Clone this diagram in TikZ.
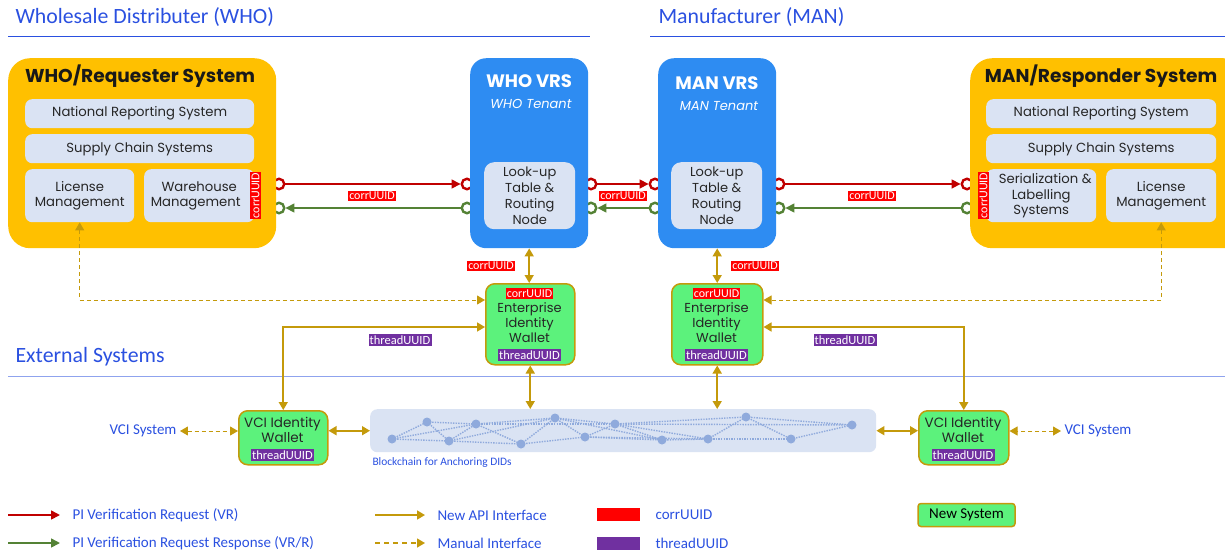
\documentclass[tikz,border=0pt]{standalone}
\usepackage{fontspec}
\setmainfont{Poppins}
\newfontfamily\lblfont{Carlito}
\usetikzlibrary{arrows.meta,calc}

\definecolor{sysyellow}{HTML}{FFC000}
\definecolor{vrsblue}{HTML}{2E8CF2}
\definecolor{paneblue}{HTML}{DAE3F3}
\definecolor{walletgreen}{HTML}{5CF27C}
\definecolor{apigold}{HTML}{C49A0B}
\definecolor{reqred}{HTML}{C00000}
\definecolor{resgreen}{HTML}{548235}
\definecolor{tagred}{HTML}{FF0000}
\definecolor{tagpurple}{HTML}{7030A0}
\definecolor{hdrblue}{HTML}{2A50E0}
\definecolor{extline}{HTML}{8FA3EE}
\definecolor{chainblue}{HTML}{8FAADC}
\definecolor{panetext}{HTML}{262626}

\tikzset{
  sysbox/.style={fill=sysyellow, rounded corners=22pt, anchor=north west, inner sep=0pt},
  vrsbox/.style={fill=vrsblue, rounded corners=16pt, anchor=north west, inner sep=0pt,
    minimum width=118pt, minimum height=190pt},
  pane/.style={fill=paneblue, rounded corners=7pt, anchor=north west, align=center,
    text=panetext, inner sep=1pt, font=\fontsize{13.2}{15.5}\selectfont},
  systitle/.style={font=\bfseries\fontsize{18.6}{21}\selectfont, text=black!90},
  vrstitle/.style={font=\bfseries\fontsize{18}{21}\selectfont, text=white},
  tenant/.style={font=\itshape\fontsize{13}{15}\selectfont, text=white},
  wallet/.style={fill=walletgreen, draw=apigold, line width=1.5pt, rounded corners=9pt,
    anchor=north west, inner sep=0pt},
  wtext/.style={align=center, text=panetext, font=\fontsize{13}{15}\selectfont},
  ctag/.style={fill=tagred, text=white, inner sep=1.2pt,
    font=\lblfont\fontsize{12}{12}\selectfont},
  ttag/.style={fill=tagpurple, text=white, inner sep=1.2pt,
    font=\lblfont\fontsize{12.5}{13}\selectfont},
  ring/.style={circle, minimum size=10.5pt, inner sep=0pt, line width=2.4pt, fill=white},
  reqarrow/.style={draw=reqred, line width=1.6pt, -{Triangle[length=9pt,width=9pt]}},
  resarrow/.style={draw=resgreen, line width=1.6pt, -{Triangle[length=9pt,width=9pt]}},
  api/.style={draw=apigold, line width=1.6pt,
    {Triangle[length=8pt,width=9pt]}-{Triangle[length=8pt,width=9pt]}},
  apione/.style={draw=apigold, line width=1.6pt, -{Triangle[length=8pt,width=9pt]}},
  manual/.style={draw=apigold, line width=1pt, dash pattern=on 4pt off 3pt,
    {Triangle[length=8pt,width=9pt]}-{Triangle[length=8pt,width=9pt]}},
  manualone/.style={draw=apigold, line width=1.4pt, dash pattern=on 5pt off 4pt,
    -{Triangle[length=8pt,width=9pt]}},
  header/.style={anchor=west, text=hdrblue, font=\lblfont\fontsize{21.8}{24}\selectfont},
  bluelbl/.style={text=hdrblue, font=\lblfont\fontsize{15}{17}\selectfont},
  legtext/.style={anchor=west, text=hdrblue, font=\lblfont\fontsize{15}{17}\selectfont},
  chainnode/.style={circle, fill=chainblue, minimum size=9pt, inner sep=0pt},
  chainlink/.style={draw=chainblue, line width=1.4pt, dash pattern=on 1.4pt off 1.2pt},
}

\begin{document}
\begin{tikzpicture}[x=1pt, y=-1pt]
\useasboundingbox (0,0) rectangle (1225,555);

% ---------- section headers ----------
\node[header] (hdrWho) at (12,17) {Wholesale Distributer (WHO)};
\node[header] (hdrMan) at (655,17) {Manufacturer (MAN)};
\node[header] (hdrExt) at (12,357) {External Systems};
\draw[hdrblue, line width=1pt] (8,36) -- (590,36);
\draw[hdrblue, line width=1pt] (650,36) -- (1225,36);
\draw[extline, line width=1pt] (8,376) -- (1225,376);

% ---------- interface sockets (behind the boxes) ----------
\node[ring, draw=reqred]   (whoOutR)  at (279,184) {};
\node[ring, draw=resgreen] (whoOutG)  at (279,208) {};
\node[ring, draw=reqred]   (wvInR)    at (467,184) {};
\node[ring, draw=resgreen] (wvInG)    at (467,208) {};
\node[ring, draw=reqred]   (wvOutR)   at (591,184) {};
\node[ring, draw=resgreen] (wvOutG)   at (591,208) {};
\node[ring, draw=reqred]   (mvInR)    at (655,184) {};
\node[ring, draw=resgreen] (mvInG)    at (655,208) {};
\node[ring, draw=reqred]   (mvOutR)   at (779,184) {};
\node[ring, draw=resgreen] (mvOutG)   at (779,208) {};
\node[ring, draw=reqred]   (manInR)   at (967,184) {};
\node[ring, draw=resgreen] (manInG)   at (967,208) {};

% ---------- WHO requester system ----------
\node[sysbox, minimum width=268pt, minimum height=190pt] (whoSys) at (8,58) {};
\node[systitle] (whoTitle) at (140,76) {WHO/Requester System};
\node[pane, minimum width=229pt, minimum height=29pt] (whoNrs) at (25,99) {National Reporting System};
\node[pane, minimum width=229pt, minimum height=29pt] (whoScs) at (25,134) {Supply Chain Systems};
\node[pane, minimum width=109pt, minimum height=53pt] (whoLic) at (25,169) {License\\Management};
\node[pane, minimum width=110pt, minimum height=53pt] (whoWh) at (144,169) {Warehouse\\Management\hspace*{7pt}};
\node[ctag, rotate=90, minimum width=43pt] (whoTag) at (255.5,195.5) {corrUUID};

% ---------- MAN responder system ----------
\node[sysbox, minimum width=275pt, minimum height=190pt] (manSys) at (970,58) {};
\node[systitle] (manTitle) at (1101,76) {MAN/Responder System};
\node[pane, minimum width=230pt, minimum height=29pt] (manNrs) at (986,99) {National Reporting System};
\node[pane, minimum width=230pt, minimum height=29pt] (manScs) at (986,134) {Supply Chain Systems};
\node[pane, minimum width=110pt, minimum height=53pt, font=\fontsize{13.2}{15.5}\selectfont] (manSer) at (986,169) {\hspace*{8pt}Serialization \&\\Labelling\\Systems};
\node[pane, minimum width=110pt, minimum height=53pt] (manLic) at (1106,169) {License\\Management};
\node[ctag, rotate=90, minimum width=43pt] (manTag) at (983.5,195.5) {corrUUID};

% ---------- VRS tenants ----------
\node[vrsbox] (whoVrs) at (470,58) {};
\node[vrstitle] (whoVrsT) at (529,81) {WHO VRS};
\node[tenant] (whoTen) at (531,104) {WHO Tenant};
\node[pane, rounded corners=10pt, minimum width=91pt, minimum height=67pt,
      font=\fontsize{13}{16}\selectfont] (whoLut) at (484,162) {Look-up\\Table \&\\Routing\\Node};

\node[vrsbox] (manVrs) at (658,58) {};
\node[vrstitle] (manVrsT) at (717,83) {MAN VRS};
\node[tenant] (manTen) at (719,106) {MAN Tenant};
\node[pane, rounded corners=10pt, minimum width=91pt, minimum height=67pt,
      font=\fontsize{13}{16}\selectfont] (manLut) at (671,162) {Look-up\\Table \&\\Routing\\Node};

% ---------- request / response flows ----------
\draw[reqarrow] (whoOutR) -- (wvInR);
\draw[resarrow] (wvInG) -- (whoOutG);
\draw[reqarrow] (wvOutR) -- (mvInR);
\draw[resarrow] (mvInG) -- (wvOutG);
\draw[reqarrow] (mvOutR) -- (manInR);
\draw[resarrow] (manInG) -- (mvOutG);
\node[ctag] (tagA) at (372,196) {corrUUID};
\node[ctag] (tagB) at (623,196) {corrUUID};
\node[ctag] (tagC) at (872,196) {corrUUID};

% ---------- enterprise identity wallets ----------
\node[wallet, minimum width=89pt, minimum height=81pt] (whoEiw) at (485,283) {};
\node[ctag] (whoEiwC) at (529.5,293.5) {corrUUID};
\node[wtext] (whoEiwT) at (529.5,323) {Enterprise\\Identity\\Wallet};
\node[ttag] (whoEiwTh) at (529.5,355) {threadUUID};

\node[wallet, minimum width=91pt, minimum height=81pt] (manEiw) at (671,283) {};
\node[ctag] (manEiwC) at (716.5,293.5) {corrUUID};
\node[wtext] (manEiwT) at (716.5,323) {Enterprise\\Identity\\Wallet};
\node[ttag] (manEiwTh) at (716.5,355) {threadUUID};

\draw[api] (whoVrs.south) -- (whoEiw.north -| whoVrs.south);
\draw[api] (manVrs.south) -- (manEiw.north -| manVrs.south);
\node[ctag] (tagD) at (491,266) {corrUUID};
\node[ctag] (tagE) at (755,266) {corrUUID};

% ---------- VCI wallets, blockchain ----------
\node[wallet, minimum width=89pt, minimum height=54pt] (whoVci) at (238,410) {};
\node[wtext, font=\fontsize{13.5}{15.5}\selectfont] (whoVciT) at (282.5,430) {VCI Identity\\Wallet};
\node[ttag] (whoVciTh) at (282.5,455) {threadUUID};

\node[wallet, minimum width=90pt, minimum height=54pt] (manVci) at (918,410) {};
\node[wtext, font=\fontsize{13.5}{15.5}\selectfont] (manVciT) at (963,430) {VCI Identity\\Wallet};
\node[ttag] (manVciTh) at (963,455) {threadUUID};

\node[fill=paneblue, rounded corners=7pt, anchor=north west, inner sep=0pt,
      minimum width=506pt, minimum height=43pt] (chain) at (370,409) {};
\node[anchor=west, text=hdrblue, font=\lblfont\fontsize{11.4}{13}\selectfont] (chainLbl) at (369,463) {Blockchain for Anchoring DIDs};

\foreach \n/\x/\y in {1/392/439, 2/427/422, 3/449/441, 4/476/424, 5/521/444, 6/555/418,
  7/585/437, 8/615/424, 9/662/440, 10/708/439, 11/746/417, 12/791/439, 13/852/425}
  \coordinate (c\n) at (\x,\y);
\foreach \a/\b in {1/2, 1/3, 1/4, 2/4, 2/3, 3/4, 3/5, 3/6, 4/6, 4/5, 4/8, 5/7, 5/6, 6/7,
  6/8, 6/9, 7/8, 7/9, 7/10, 8/9, 8/10, 8/11, 9/10, 10/11, 10/12, 11/12, 11/13, 12/13, 8/13}
  \draw[chainlink] (c\a) -- (c\b);
\foreach \n in {1,...,13}
  \node[chainnode] (cn\n) at (c\n) {};

\node[bluelbl] (whoVciSys) at (143,431) {VCI System};
\node[bluelbl] (manVciSys) at (1098,431) {VCI System};

\draw[manual] (whoVciSys.east) -- (whoVciSys.east -| whoVci.west);
\draw[manual] (manVciSys.west) -- (manVciSys.west -| manVci.east);
\draw[api] (chain.west) -- (chain.west -| whoVci.east);
\draw[api] (chain.east) -- (chain.east -| manVci.west);
\draw[api] (whoEiw.south) -- (whoEiw.south |- chain.north);
\draw[api] (manEiw.south -| manVrs.south) -- (chain.north -| manVrs.south);

% wallet-to-wallet and manual links
\draw[api] ([yshift=-44pt]whoEiw.north west) -| (whoVci.north);
\draw[api] ([yshift=-44pt]manEiw.north east) -| (manVci.north);
\draw[manual] (whoLic.south) |- ([yshift=-17pt]whoEiw.north west);
\draw[manual] (manLic.south) |- ([yshift=-17pt]manEiw.north east);
\node[ttag] (tagF) at (400,340) {threadUUID};
\node[ttag] (tagG) at (845,340) {threadUUID};

% ---------- legend ----------
\coordinate (lgA0) at (8,515);   \coordinate (lgA1) at (60,515);
\coordinate (lgB0) at (8,543);   \coordinate (lgB1) at (60,543);
\coordinate (lgC0) at (375,515); \coordinate (lgC1) at (425,515);
\coordinate (lgD0) at (375,543); \coordinate (lgD1) at (425,543);
\draw[reqarrow] (lgA0) -- (lgA1);
\draw[resarrow] (lgB0) -- (lgB1);
\draw[apione] (lgC0) -- (lgC1);
\draw[manualone] (lgD0) -- (lgD1);
\node[legtext] (lgAt) at (69,515) {PI Verification Request (VR)};
\node[legtext] (lgBt) at (69,543) {PI Verification Request Response (VR/R)};
\node[legtext] (lgCt) at (434,515) {New API Interface};
\node[legtext] (lgDt) at (434,543) {Manual Interface};
\node[fill=tagred, minimum width=43pt, minimum height=13pt, inner sep=0pt] (lgRed) at (618.5,514.5) {};
\node[fill=tagpurple, minimum width=43pt, minimum height=13pt, inner sep=0pt] (lgPur) at (618.5,543.5) {};
\node[legtext] (lgEt) at (652,515) {corrUUID};
\node[legtext] (lgFt) at (652,543) {threadUUID};
\node[wallet, anchor=center, rounded corners=3pt, minimum width=97pt, minimum height=23pt,
      font=\lblfont\fontsize{15}{17}\selectfont, text=black] (lgNew) at (966.5,515) {New System};
\end{tikzpicture}
\end{document}
